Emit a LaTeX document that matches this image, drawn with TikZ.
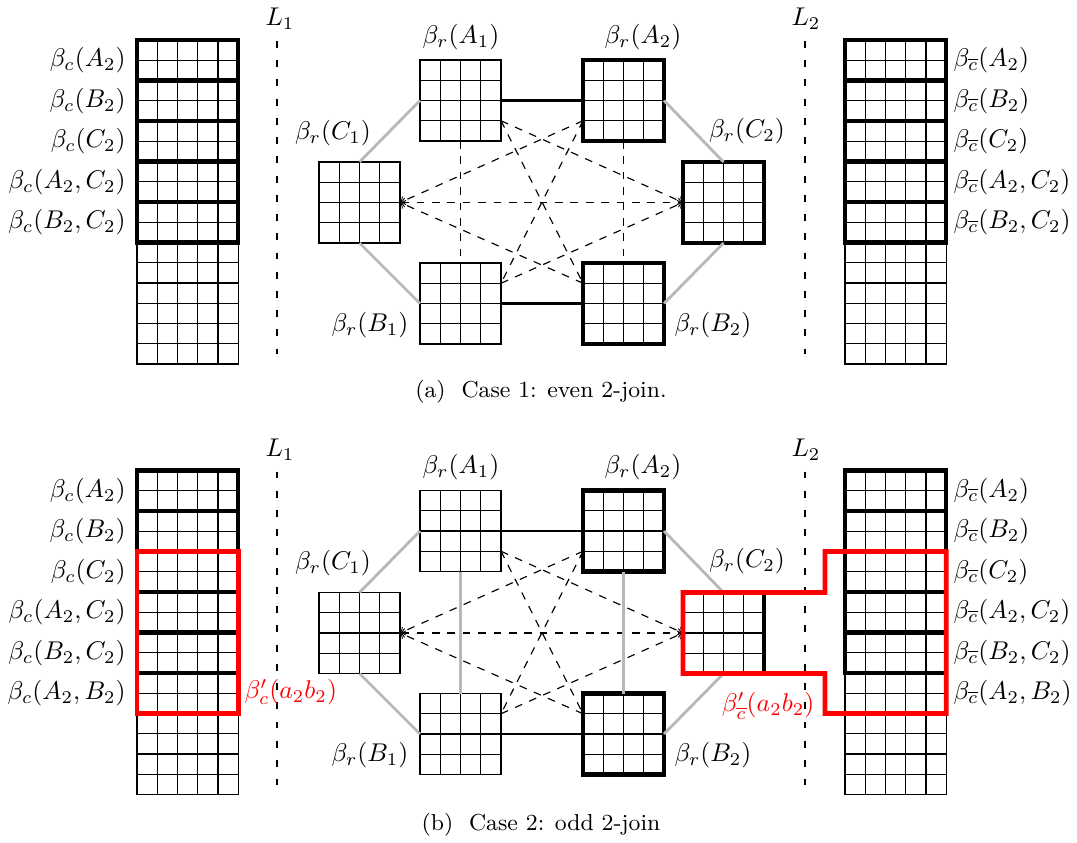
\documentclass[tikz,border=0pt]{standalone}
\usetikzlibrary{calc}
\def\cs{7.8975pt}
\tikzset{
  gridl/.style={line width=0.45pt},
  gbox/.style={draw, line width=0.5pt, inner sep=0pt, outer sep=0pt,
    minimum width=31.59pt, minimum height=31.59pt,
    path picture={\foreach \k in {1,2,3}{
      \draw[gridl] ([xshift=\k*\cs]path picture bounding box.north west) -- ([xshift=\k*\cs]path picture bounding box.south west);
      \draw[gridl] ([yshift=-\k*\cs]path picture bounding box.north west) -- ([yshift=-\k*\cs]path picture bounding box.north east);}}},
  tbox/.style={gbox, line width=1.6pt},
  colbox/.style={draw, line width=0.5pt, inner sep=0pt, outer sep=0pt,
    minimum width=39.4875pt, minimum height=126.36pt,
    path picture={\foreach \k in {1,...,4}{
      \draw[gridl] ([xshift=\k*\cs]path picture bounding box.north west) -- ([xshift=\k*\cs]path picture bounding box.south west);}
      \foreach \k in {1,...,15}{
      \draw[gridl] ([yshift=-\k*\cs]path picture bounding box.north west) -- ([yshift=-\k*\cs]path picture bounding box.north east);}}},
  tline/.style={line width=1.6pt},
  redl/.style={red, line width=1.8pt},
  sedge/.style={line width=0.8pt},
  gedge/.style={black!28, line width=1.1pt},
  dedge/.style={dashed, line width=0.45pt},
  lline/.style={line width=0.8pt, dash pattern=on 2.7pt off 4.8pt},
  lab/.style={inner sep=0pt, font=\fontsize{10}{12}\selectfont},
  captext/.style={inner sep=0pt, font=\fontsize{9}{11}\selectfont},
}
\newcommand\graphpanel[1]{%
  % columns
  \node[colbox, anchor=north west] (#1colL) at (137,40) {};
  \node[colbox, anchor=north west] (#1colR) at (845,40) {};
  \foreach \k in {0,...,4}{
    \draw[tline] ($(#1colL.north west)+(0,\k*40.5)$) rectangle ++(101.25,40.5);
    \draw[tline] ($(#1colR.north west)+(0,\k*40.5)$) rectangle ++(101.25,40.5);
  }
  % L lines
  \node[lab] (#1L1) at (280,19) {$L_1$};
  \node[lab] (#1L2) at (806,19) {$L_2$};
  \coordinate (#1L1t) at (277,41); \coordinate (#1L1b) at (277,354);
  \coordinate (#1L2t) at (805,41); \coordinate (#1L2b) at (805,354);
  \draw[lline] (#1L1t) -- (#1L1b);
  \draw[lline] (#1L2t) -- (#1L2b);
  % graph nodes
  \node[gbox, anchor=north west] (#1A1) at (420,60) {};
  \node[tbox, anchor=north west] (#1A2) at (583,60) {};
  \node[gbox, anchor=north west] (#1C1) at (319,162) {};
  \node[tbox, anchor=north west] (#1C2) at (683,162) {};
  \node[gbox, anchor=north west] (#1B1) at (420,263) {};
  \node[tbox, anchor=north west] (#1B2) at (583,263) {};
  \node[lab] (#1lA1) at (461,37) {$\beta_r(A_1)$};
  \node[lab] (#1lA2) at (643,37) {$\beta_r(A_2)$};
  \node[lab] (#1lC1) at (333,133) {$\beta_r(C_1)$};
  \node[lab] (#1lC2) at (747,131) {$\beta_r(C_2)$};
  \node[lab] (#1lB1) at (370,325) {$\beta_r(B_1)$};
  \node[lab] (#1lB2) at (713,325) {$\beta_r(B_2)$};
  % connectors
  \draw[sedge] (#1A1) -- (#1A2);
  \draw[sedge] (#1B1) -- (#1B2);
  \draw[gedge] (#1C1.north) -- (#1A1.west);
  \draw[gedge] (#1C1.south) -- (#1B1.west);
  \draw[gedge] (#1A2.east) -- (#1C2.north);
  \draw[gedge] (#1B2.east) -- (#1C2.south);
  \coordinate (#1A1p) at ($(#1A1.north east)!.75!(#1A1.south east)$);
  \coordinate (#1A2p) at ($(#1A2.north west)!.75!(#1A2.south west)$);
  \coordinate (#1B1p) at ($(#1B1.north east)!.25!(#1B1.south east)$);
  \coordinate (#1B2p) at ($(#1B2.north west)!.25!(#1B2.south west)$);
  \draw[dedge, ->] (#1A1p) -- (#1C2.west);
  \draw[dedge, ->] (#1B1p) -- (#1C2.west);
  \draw[dedge, ->] (#1A2p) -- (#1C1.east);
  \draw[dedge, ->] (#1B2p) -- (#1C1.east);
  \draw[dedge, <->] (#1C1.east) -- (#1C2.west);
  \draw[dedge] (#1A1p) -- (#1B2p);
  \draw[dedge] (#1A2p) -- (#1B1p);
}
\begin{document}
\begin{tikzpicture}[x=0.39pt, y=-0.39pt]
\useasboundingbox (0,0) rectangle (1077,843);
% ---------- panel (a)
\graphpanel{a}
\draw[dedge] (aA1.south) -- (aB1.north);
\draw[dedge] (aA2.south) -- (aB2.north);
\node[lab, anchor=east] (alc1) at (126,60.25) {$\beta_c(A_2)$};
\node[lab, anchor=east] (alc2) at (126,100.75) {$\beta_c(B_2)$};
\node[lab, anchor=east] (alc3) at (126,141.25) {$\beta_c(C_2)$};
\node[lab, anchor=east] (alc4) at (126,181.75) {$\beta_c(A_2,C_2)$};
\node[lab, anchor=east] (alc5) at (126,222.25) {$\beta_c(B_2,C_2)$};
\node[lab, anchor=west] (arc1) at (953,60.25) {$\beta_{\overline{c}}(A_2)$};
\node[lab, anchor=west] (arc2) at (953,100.75) {$\beta_{\overline{c}}(B_2)$};
\node[lab, anchor=west] (arc3) at (953,141.25) {$\beta_{\overline{c}}(C_2)$};
\node[lab, anchor=west] (arc4) at (953,181.75) {$\beta_{\overline{c}}(A_2,C_2)$};
\node[lab, anchor=west] (arc5) at (953,222.25) {$\beta_{\overline{c}}(B_2,C_2)$};
\node[captext] (capa) at (541,392) {(a)~~Case 1: even 2-join.};
% ---------- panel (b)
\begin{scope}[shift={(0,430.5)}]
\graphpanel{b}
\draw[gedge] (bA1.south) -- (bB1.north);
\draw[gedge] (bA2.south) -- (bB2.north);
\node[lab, anchor=east] (blc1) at (126,60.25) {$\beta_c(A_2)$};
\node[lab, anchor=east] (blc2) at (126,100.75) {$\beta_c(B_2)$};
\node[lab, anchor=east] (blc3) at (126,141.25) {$\beta_c(C_2)$};
\node[lab, anchor=east] (blc4) at (126,181.75) {$\beta_c(A_2,C_2)$};
\node[lab, anchor=east] (blc5) at (126,222.25) {$\beta_c(B_2,C_2)$};
\node[lab, anchor=east] (blc6) at (126,262.75) {$\beta_c(A_2,B_2)$};
\node[lab, anchor=west] (brc1) at (953,60.25) {$\beta_{\overline{c}}(A_2)$};
\node[lab, anchor=west] (brc2) at (953,100.75) {$\beta_{\overline{c}}(B_2)$};
\node[lab, anchor=west] (brc3) at (953,141.25) {$\beta_{\overline{c}}(C_2)$};
\node[lab, anchor=west] (brc4) at (953,181.75) {$\beta_{\overline{c}}(A_2,C_2)$};
\node[lab, anchor=west] (brc5) at (953,222.25) {$\beta_{\overline{c}}(B_2,C_2)$};
\node[lab, anchor=west] (brc6) at (953,262.75) {$\beta_{\overline{c}}(A_2,B_2)$};
% red outlines
\draw[redl] ($(bcolL.north west)+(0,81)$) rectangle ($(bcolL.north east)+(0,243)$);
\draw[redl, line join=miter] (bC2.north west) -- (825,162) -- (825,121)
   -- ($(bcolR.north east)+(0,81)$) -- ($(bcolR.north east)+(0,243)$)
   -- (825,283) -- (825,243) -- (bC2.south west) -- cycle;
\node[lab, red, anchor=west] (bred1) at (244,261.5) {$\beta'_c(a_2b_2)$};
\node[lab, red] (bred2) at (768,275.5) {$\beta'_{\overline{c}}(a_2b_2)$};
\end{scope}
\node[captext] (capb) at (541,825) {(b)~~Case 2: odd 2-join};
\end{tikzpicture}
\end{document}
